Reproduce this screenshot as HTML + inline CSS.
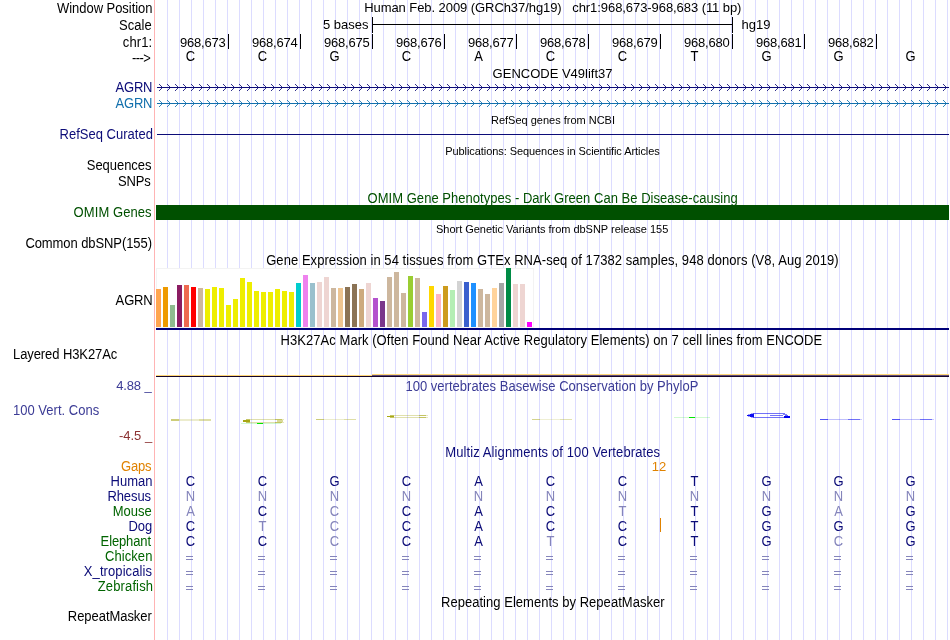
<!DOCTYPE html>
<html><head><meta charset="utf-8"><title>UCSC Genome Browser</title>
<style>
html,body{margin:0;padding:0;background:#fff;}
body{width:950px;height:640px;position:relative;overflow:hidden;font-family:"Liberation Sans",sans-serif;}
#w{position:absolute;left:0;top:0;width:950px;height:640px;will-change:transform;}
.t{position:absolute;white-space:nowrap;line-height:16px;height:16px;font-size:13px;color:#000;transform-origin:0 12px;}
.L{transform:scaleY(1.07);}
.S{font-size:11px;}
.b{position:absolute;}
.eq{width:7px;height:4px;box-sizing:border-box;border-top:1px solid #8585bb;border-bottom:1px solid #8585bb;}
.guides{position:absolute;left:167px;top:0;width:783px;height:640px;
 background-image:linear-gradient(to right,rgb(220,220,255) 1px,transparent 1px);
 background-size:12px 640px;}
</style></head><body><div id="w">
<div class="guides"></div>
<div class="b" style="left:154px;top:0px;width:1px;height:640px;background:rgb(255,180,180);"></div>
<div class="t L" style="top:1px;left:57.0px;letter-spacing:-0.043px;">Window Position</div>
<div class="t L" style="top:18px;left:119.0px;letter-spacing:0.025px;">Scale</div>
<div class="t L" style="top:35px;left:122.8px;letter-spacing:0.125px;">chr1:</div>
<div class="t L" style="top:51px;left:132.0px;letter-spacing:-0.6px;">---&gt;</div>
<div class="t M" style="top:0px;left:364.2px;letter-spacing:-0.069px;">Human Feb. 2009 (GRCh37/hg19)&nbsp;&nbsp;&nbsp;chr1:968,673-968,683 (11 bp)</div>
<div class="t M" style="top:17px;right:581.5px;">5 bases</div>
<div class="b" style="left:372px;top:24px;width:361px;height:1px;background:#000;"></div>
<div class="b" style="left:372px;top:17px;width:1px;height:16px;background:#000;"></div>
<div class="b" style="left:732px;top:17px;width:1px;height:16px;background:#000;"></div>
<div class="t M" style="top:17px;left:741.5px;">hg19</div>
<div class="b" style="left:228px;top:34px;width:1px;height:15px;background:#000;"></div>
<div class="t M" style="top:35px;right:724.4px;letter-spacing:-0.2px;">968,673</div>
<div class="b" style="left:300px;top:34px;width:1px;height:15px;background:#000;"></div>
<div class="t M" style="top:35px;right:652.4px;letter-spacing:-0.2px;">968,674</div>
<div class="b" style="left:372px;top:34px;width:1px;height:15px;background:#000;"></div>
<div class="t M" style="top:35px;right:580.4px;letter-spacing:-0.2px;">968,675</div>
<div class="b" style="left:444px;top:34px;width:1px;height:15px;background:#000;"></div>
<div class="t M" style="top:35px;right:508.4px;letter-spacing:-0.2px;">968,676</div>
<div class="b" style="left:516px;top:34px;width:1px;height:15px;background:#000;"></div>
<div class="t M" style="top:35px;right:436.4px;letter-spacing:-0.2px;">968,677</div>
<div class="b" style="left:588px;top:34px;width:1px;height:15px;background:#000;"></div>
<div class="t M" style="top:35px;right:364.4px;letter-spacing:-0.2px;">968,678</div>
<div class="b" style="left:660px;top:34px;width:1px;height:15px;background:#000;"></div>
<div class="t M" style="top:35px;right:292.4px;letter-spacing:-0.2px;">968,679</div>
<div class="b" style="left:732px;top:34px;width:1px;height:15px;background:#000;"></div>
<div class="t M" style="top:35px;right:220.39999999999998px;letter-spacing:-0.2px;">968,680</div>
<div class="b" style="left:804px;top:34px;width:1px;height:15px;background:#000;"></div>
<div class="t M" style="top:35px;right:148.39999999999998px;letter-spacing:-0.2px;">968,681</div>
<div class="b" style="left:876px;top:34px;width:1px;height:15px;background:#000;"></div>
<div class="t M" style="top:35px;right:76.39999999999998px;letter-spacing:-0.2px;">968,682</div>
<div class="t M" style="top:49px;left:140.5px;width:100px;text-align:center;transform:scaleY(1.07);">C</div>
<div class="t M" style="top:49px;left:212.5px;width:100px;text-align:center;transform:scaleY(1.07);">C</div>
<div class="t M" style="top:49px;left:284.5px;width:100px;text-align:center;transform:scaleY(1.07);">G</div>
<div class="t M" style="top:49px;left:356.5px;width:100px;text-align:center;transform:scaleY(1.07);">C</div>
<div class="t M" style="top:49px;left:428.5px;width:100px;text-align:center;transform:scaleY(1.07);">A</div>
<div class="t M" style="top:49px;left:500.5px;width:100px;text-align:center;transform:scaleY(1.07);">C</div>
<div class="t M" style="top:49px;left:572.5px;width:100px;text-align:center;transform:scaleY(1.07);">C</div>
<div class="t M" style="top:49px;left:644.5px;width:100px;text-align:center;transform:scaleY(1.07);">T</div>
<div class="t M" style="top:49px;left:716.5px;width:100px;text-align:center;transform:scaleY(1.07);">G</div>
<div class="t M" style="top:49px;left:788.5px;width:100px;text-align:center;transform:scaleY(1.07);">G</div>
<div class="t M" style="top:49px;left:860.5px;width:100px;text-align:center;transform:scaleY(1.07);">G</div>
<div class="t M" style="top:66px;left:492.6px;letter-spacing:-0.0px;">GENCODE V49lift37</div>
<div class="t L" style="top:80px;color:#0c0c78;left:115.6px;letter-spacing:-0.233px;">AGRN</div>
<div class="b" style="left:157px;top:87px;width:792px;height:1px;background:#0c0c78;"></div>
<svg class="b" style="left:0;top:82px" width="950" height="11" viewBox="0 82 950 11"><path fill="none" stroke="#0c0c78" stroke-width="0.85" d="M159 84L162.5 87.5L159 91M167 84L170.5 87.5L167 91M175 84L178.5 87.5L175 91M183 84L186.5 87.5L183 91M191 84L194.5 87.5L191 91M199 84L202.5 87.5L199 91M207 84L210.5 87.5L207 91M215 84L218.5 87.5L215 91M223 84L226.5 87.5L223 91M231 84L234.5 87.5L231 91M239 84L242.5 87.5L239 91M247 84L250.5 87.5L247 91M255 84L258.5 87.5L255 91M263 84L266.5 87.5L263 91M271 84L274.5 87.5L271 91M279 84L282.5 87.5L279 91M287 84L290.5 87.5L287 91M295 84L298.5 87.5L295 91M303 84L306.5 87.5L303 91M311 84L314.5 87.5L311 91M319 84L322.5 87.5L319 91M327 84L330.5 87.5L327 91M335 84L338.5 87.5L335 91M343 84L346.5 87.5L343 91M351 84L354.5 87.5L351 91M359 84L362.5 87.5L359 91M367 84L370.5 87.5L367 91M375 84L378.5 87.5L375 91M383 84L386.5 87.5L383 91M391 84L394.5 87.5L391 91M399 84L402.5 87.5L399 91M407 84L410.5 87.5L407 91M415 84L418.5 87.5L415 91M423 84L426.5 87.5L423 91M431 84L434.5 87.5L431 91M439 84L442.5 87.5L439 91M447 84L450.5 87.5L447 91M455 84L458.5 87.5L455 91M463 84L466.5 87.5L463 91M471 84L474.5 87.5L471 91M479 84L482.5 87.5L479 91M487 84L490.5 87.5L487 91M495 84L498.5 87.5L495 91M503 84L506.5 87.5L503 91M511 84L514.5 87.5L511 91M519 84L522.5 87.5L519 91M527 84L530.5 87.5L527 91M535 84L538.5 87.5L535 91M543 84L546.5 87.5L543 91M551 84L554.5 87.5L551 91M559 84L562.5 87.5L559 91M567 84L570.5 87.5L567 91M575 84L578.5 87.5L575 91M583 84L586.5 87.5L583 91M591 84L594.5 87.5L591 91M599 84L602.5 87.5L599 91M607 84L610.5 87.5L607 91M615 84L618.5 87.5L615 91M623 84L626.5 87.5L623 91M631 84L634.5 87.5L631 91M639 84L642.5 87.5L639 91M647 84L650.5 87.5L647 91M655 84L658.5 87.5L655 91M663 84L666.5 87.5L663 91M671 84L674.5 87.5L671 91M679 84L682.5 87.5L679 91M687 84L690.5 87.5L687 91M695 84L698.5 87.5L695 91M703 84L706.5 87.5L703 91M711 84L714.5 87.5L711 91M719 84L722.5 87.5L719 91M727 84L730.5 87.5L727 91M735 84L738.5 87.5L735 91M743 84L746.5 87.5L743 91M751 84L754.5 87.5L751 91M759 84L762.5 87.5L759 91M767 84L770.5 87.5L767 91M775 84L778.5 87.5L775 91M783 84L786.5 87.5L783 91M791 84L794.5 87.5L791 91M799 84L802.5 87.5L799 91M807 84L810.5 87.5L807 91M815 84L818.5 87.5L815 91M823 84L826.5 87.5L823 91M831 84L834.5 87.5L831 91M839 84L842.5 87.5L839 91M847 84L850.5 87.5L847 91M855 84L858.5 87.5L855 91M863 84L866.5 87.5L863 91M871 84L874.5 87.5L871 91M879 84L882.5 87.5L879 91M887 84L890.5 87.5L887 91M895 84L898.5 87.5L895 91M903 84L906.5 87.5L903 91M911 84L914.5 87.5L911 91M919 84L922.5 87.5L919 91M927 84L930.5 87.5L927 91M935 84L938.5 87.5L935 91M943 84L946.5 87.5L943 91"/></svg>
<div class="t L" style="top:96px;color:#1270ad;left:115.6px;letter-spacing:-0.233px;">AGRN</div>
<div class="b" style="left:157px;top:103px;width:792px;height:1px;background:#1270ad;"></div>
<svg class="b" style="left:0;top:98px" width="950" height="11" viewBox="0 98 950 11"><path fill="none" stroke="#1270ad" stroke-width="0.85" d="M159 100L162.5 103.5L159 107M167 100L170.5 103.5L167 107M175 100L178.5 103.5L175 107M183 100L186.5 103.5L183 107M191 100L194.5 103.5L191 107M199 100L202.5 103.5L199 107M207 100L210.5 103.5L207 107M215 100L218.5 103.5L215 107M223 100L226.5 103.5L223 107M231 100L234.5 103.5L231 107M239 100L242.5 103.5L239 107M247 100L250.5 103.5L247 107M255 100L258.5 103.5L255 107M263 100L266.5 103.5L263 107M271 100L274.5 103.5L271 107M279 100L282.5 103.5L279 107M287 100L290.5 103.5L287 107M295 100L298.5 103.5L295 107M303 100L306.5 103.5L303 107M311 100L314.5 103.5L311 107M319 100L322.5 103.5L319 107M327 100L330.5 103.5L327 107M335 100L338.5 103.5L335 107M343 100L346.5 103.5L343 107M351 100L354.5 103.5L351 107M359 100L362.5 103.5L359 107M367 100L370.5 103.5L367 107M375 100L378.5 103.5L375 107M383 100L386.5 103.5L383 107M391 100L394.5 103.5L391 107M399 100L402.5 103.5L399 107M407 100L410.5 103.5L407 107M415 100L418.5 103.5L415 107M423 100L426.5 103.5L423 107M431 100L434.5 103.5L431 107M439 100L442.5 103.5L439 107M447 100L450.5 103.5L447 107M455 100L458.5 103.5L455 107M463 100L466.5 103.5L463 107M471 100L474.5 103.5L471 107M479 100L482.5 103.5L479 107M487 100L490.5 103.5L487 107M495 100L498.5 103.5L495 107M503 100L506.5 103.5L503 107M511 100L514.5 103.5L511 107M519 100L522.5 103.5L519 107M527 100L530.5 103.5L527 107M535 100L538.5 103.5L535 107M543 100L546.5 103.5L543 107M551 100L554.5 103.5L551 107M559 100L562.5 103.5L559 107M567 100L570.5 103.5L567 107M575 100L578.5 103.5L575 107M583 100L586.5 103.5L583 107M591 100L594.5 103.5L591 107M599 100L602.5 103.5L599 107M607 100L610.5 103.5L607 107M615 100L618.5 103.5L615 107M623 100L626.5 103.5L623 107M631 100L634.5 103.5L631 107M639 100L642.5 103.5L639 107M647 100L650.5 103.5L647 107M655 100L658.5 103.5L655 107M663 100L666.5 103.5L663 107M671 100L674.5 103.5L671 107M679 100L682.5 103.5L679 107M687 100L690.5 103.5L687 107M695 100L698.5 103.5L695 107M703 100L706.5 103.5L703 107M711 100L714.5 103.5L711 107M719 100L722.5 103.5L719 107M727 100L730.5 103.5L727 107M735 100L738.5 103.5L735 107M743 100L746.5 103.5L743 107M751 100L754.5 103.5L751 107M759 100L762.5 103.5L759 107M767 100L770.5 103.5L767 107M775 100L778.5 103.5L775 107M783 100L786.5 103.5L783 107M791 100L794.5 103.5L791 107M799 100L802.5 103.5L799 107M807 100L810.5 103.5L807 107M815 100L818.5 103.5L815 107M823 100L826.5 103.5L823 107M831 100L834.5 103.5L831 107M839 100L842.5 103.5L839 107M847 100L850.5 103.5L847 107M855 100L858.5 103.5L855 107M863 100L866.5 103.5L863 107M871 100L874.5 103.5L871 107M879 100L882.5 103.5L879 107M887 100L890.5 103.5L887 107M895 100L898.5 103.5L895 107M903 100L906.5 103.5L903 107M911 100L914.5 103.5L911 107M919 100L922.5 103.5L919 107M927 100L930.5 103.5L927 107M935 100L938.5 103.5L935 107M943 100L946.5 103.5L943 107"/></svg>
<div class="t S" style="top:112px;left:491.0px;letter-spacing:-0.005px;">RefSeq genes from NCBI</div>
<div class="t L" style="top:127px;color:#0c0c78;left:59.6px;letter-spacing:0.008px;">RefSeq Curated</div>
<div class="b" style="left:157px;top:134px;width:792px;height:1px;background:#0c0c78;"></div>
<div class="t S" style="top:143px;left:445.2px;letter-spacing:-0.069px;">Publications: Sequences in Scientific Articles</div>
<div class="t L" style="top:158px;left:86.8px;letter-spacing:-0.05px;">Sequences</div>
<div class="t L" style="top:174px;left:118.0px;letter-spacing:-0.167px;">SNPs</div>
<div class="t L" style="top:191px;color:#005000;left:367.6px;letter-spacing:0.029px;">OMIM Gene Phenotypes - Dark Green Can Be Disease-causing</div>
<div class="t L" style="top:205px;color:#005000;left:73.6px;letter-spacing:0.078px;">OMIM Genes</div>
<div class="b" style="left:156px;top:205px;width:793px;height:15px;background:#005000;"></div>
<div class="t S" style="top:221px;left:436.0px;letter-spacing:-0.02px;">Short Genetic Variants from dbSNP release 155</div>
<div class="t L" style="top:236px;left:25.4px;letter-spacing:-0.081px;">Common dbSNP(155)</div>
<div class="t L" style="top:253px;left:266.2px;letter-spacing:0.058px;">Gene Expression in 54 tissues from GTEx RNA-seq of 17382 samples, 948 donors (V8, Aug 2019)</div>
<div class="t L" style="top:293px;left:115.6px;letter-spacing:-0.133px;">AGRN</div>
<div class="b" style="left:156px;top:268px;width:378px;height:60px;background:#fff;box-shadow:inset 0 0 0 1px #f3f3f3;"></div>
<div class="b" style="left:156px;top:289px;width:5px;height:38px;background:#FFA54F;"></div>
<div class="b" style="left:163px;top:287px;width:5px;height:40px;background:#EE9A00;"></div>
<div class="b" style="left:170px;top:305px;width:5px;height:22px;background:#8FBC8F;"></div>
<div class="b" style="left:177px;top:285px;width:5px;height:42px;background:#8B1C62;"></div>
<div class="b" style="left:184px;top:285px;width:5px;height:42px;background:#EE6A50;"></div>
<div class="b" style="left:191px;top:287px;width:5px;height:40px;background:#FF0000;"></div>
<div class="b" style="left:198px;top:288px;width:5px;height:39px;background:#CDB79E;"></div>
<div class="b" style="left:205px;top:289px;width:5px;height:38px;background:#EEEE00;"></div>
<div class="b" style="left:212px;top:287px;width:5px;height:40px;background:#EEEE00;"></div>
<div class="b" style="left:219px;top:288px;width:5px;height:39px;background:#EEEE00;"></div>
<div class="b" style="left:226px;top:305px;width:5px;height:22px;background:#EEEE00;"></div>
<div class="b" style="left:233px;top:299px;width:5px;height:28px;background:#EEEE00;"></div>
<div class="b" style="left:240px;top:278px;width:5px;height:49px;background:#EEEE00;"></div>
<div class="b" style="left:247px;top:282px;width:5px;height:45px;background:#EEEE00;"></div>
<div class="b" style="left:254px;top:291px;width:5px;height:36px;background:#EEEE00;"></div>
<div class="b" style="left:261px;top:292px;width:5px;height:35px;background:#EEEE00;"></div>
<div class="b" style="left:268px;top:292px;width:5px;height:35px;background:#EEEE00;"></div>
<div class="b" style="left:275px;top:289px;width:5px;height:38px;background:#EEEE00;"></div>
<div class="b" style="left:282px;top:291px;width:5px;height:36px;background:#EEEE00;"></div>
<div class="b" style="left:289px;top:292px;width:5px;height:35px;background:#EEEE00;"></div>
<div class="b" style="left:296px;top:283px;width:5px;height:44px;background:#00CDCD;"></div>
<div class="b" style="left:303px;top:275px;width:5px;height:52px;background:#EE82EE;"></div>
<div class="b" style="left:310px;top:283px;width:5px;height:44px;background:#9AC0CD;"></div>
<div class="b" style="left:317px;top:282px;width:5px;height:45px;background:#EED5D2;"></div>
<div class="b" style="left:324px;top:277px;width:5px;height:50px;background:#EED5D2;"></div>
<div class="b" style="left:331px;top:288px;width:5px;height:39px;background:#CDB79E;"></div>
<div class="b" style="left:338px;top:288px;width:5px;height:39px;background:#EEC591;"></div>
<div class="b" style="left:345px;top:287px;width:5px;height:40px;background:#8B7355;"></div>
<div class="b" style="left:352px;top:284px;width:5px;height:43px;background:#8B7355;"></div>
<div class="b" style="left:359px;top:289px;width:5px;height:38px;background:#CDAA7D;"></div>
<div class="b" style="left:366px;top:283px;width:5px;height:44px;background:#EED5D2;"></div>
<div class="b" style="left:373px;top:298px;width:5px;height:29px;background:#B452CD;"></div>
<div class="b" style="left:380px;top:301px;width:5px;height:26px;background:#7A378B;"></div>
<div class="b" style="left:387px;top:277px;width:5px;height:50px;background:#CDB79E;"></div>
<div class="b" style="left:394px;top:272px;width:5px;height:55px;background:#CDB79E;"></div>
<div class="b" style="left:401px;top:293px;width:5px;height:34px;background:#CDB79E;"></div>
<div class="b" style="left:408px;top:276px;width:5px;height:51px;background:#9ACD32;"></div>
<div class="b" style="left:415px;top:278px;width:5px;height:49px;background:#CDB79E;"></div>
<div class="b" style="left:422px;top:312px;width:5px;height:15px;background:#7A67EE;"></div>
<div class="b" style="left:429px;top:286px;width:5px;height:41px;background:#FFD700;"></div>
<div class="b" style="left:436px;top:294px;width:5px;height:33px;background:#FFB6C1;"></div>
<div class="b" style="left:443px;top:286px;width:5px;height:41px;background:#CD9B1D;"></div>
<div class="b" style="left:450px;top:290px;width:5px;height:37px;background:#B4EEB4;"></div>
<div class="b" style="left:457px;top:281px;width:5px;height:46px;background:#D3D3D3;"></div>
<div class="b" style="left:464px;top:282px;width:5px;height:45px;background:#3A5FCD;"></div>
<div class="b" style="left:471px;top:283px;width:5px;height:44px;background:#1E90FF;"></div>
<div class="b" style="left:478px;top:289px;width:5px;height:38px;background:#CDB79E;"></div>
<div class="b" style="left:485px;top:294px;width:5px;height:33px;background:#CDB79E;"></div>
<div class="b" style="left:492px;top:288px;width:5px;height:39px;background:#FFD39B;"></div>
<div class="b" style="left:499px;top:283px;width:5px;height:44px;background:#A6A6A6;"></div>
<div class="b" style="left:506px;top:268px;width:5px;height:59px;background:#008B45;"></div>
<div class="b" style="left:513px;top:284px;width:5px;height:43px;background:#EED5D2;"></div>
<div class="b" style="left:520px;top:284px;width:5px;height:43px;background:#EED5D2;"></div>
<div class="b" style="left:527px;top:322px;width:5px;height:5px;background:#FF00FF;"></div>
<div class="b" style="left:156px;top:328px;width:793px;height:2px;background:#000078;"></div>
<div class="t L" style="top:333px;left:280.6px;letter-spacing:0.047px;">H3K27Ac Mark (Often Found Near Active Regulatory Elements) on 7 cell lines from ENCODE</div>
<div class="t L" style="top:347px;left:13.0px;letter-spacing:-0.086px;">Layered H3K27Ac</div>
<div class="b" style="left:156px;top:375px;width:216px;height:1px;background:#ffd778;"></div>
<div class="b" style="left:156px;top:376px;width:793px;height:1px;background:#14052a;"></div>
<div class="b" style="left:372px;top:374px;width:577px;height:1px;background:#ffd778;"></div>
<div class="b" style="left:372px;top:375px;width:577px;height:1px;background:#5f4a78;"></div>
<div class="t M" style="top:378px;color:#3c3c96;left:116.2px;letter-spacing:-0.14px;">4.88 _</div>
<div class="t L" style="top:403px;color:#3c3c96;left:13.0px;letter-spacing:0.015px;">100 Vert. Cons</div>
<div class="t M" style="top:428px;color:#8c3232;left:119.0px;letter-spacing:-0.02px;">-4.5 _</div>
<div class="t L" style="top:379px;color:#3c3c96;left:405.4px;letter-spacing:0.022px;">100 vertebrates Basewise Conservation by PhyloP</div>
<div class="b" style="left:171px;top:419px;width:8px;height:1px;background:rgba(160,160,0,0.5249999999999999);"></div>
<div class="b" style="left:179px;top:419px;width:20px;height:1px;background:rgba(160,160,0,0.196);"></div>
<div class="b" style="left:199px;top:419px;width:12px;height:1px;background:rgba(160,160,0,0.35);"></div>
<div class="b" style="left:171px;top:420px;width:8px;height:1px;background:rgba(160,160,0,0.5249999999999999);"></div>
<div class="b" style="left:179px;top:420px;width:20px;height:1px;background:rgba(160,160,0,0.196);"></div>
<div class="b" style="left:199px;top:420px;width:12px;height:1px;background:rgba(160,160,0,0.35);"></div>
<div class="b" style="left:246px;top:419px;width:4px;height:1px;background:rgba(160,160,0,0.6);"></div>
<div class="b" style="left:250px;top:419px;width:25px;height:1px;background:rgba(160,160,0,0.32);"></div>
<div class="b" style="left:275px;top:419px;width:7px;height:1px;background:rgba(160,160,0,0.62);"></div>
<div class="b" style="left:282px;top:419px;width:2px;height:1px;background:rgba(160,160,0,0.25);"></div>
<div class="b" style="left:246px;top:422px;width:4px;height:1px;background:rgba(160,160,0,0.6);"></div>
<div class="b" style="left:250px;top:422px;width:25px;height:1px;background:rgba(160,160,0,0.32);"></div>
<div class="b" style="left:275px;top:422px;width:7px;height:1px;background:rgba(160,160,0,0.62);"></div>
<div class="b" style="left:282px;top:422px;width:2px;height:1px;background:rgba(160,160,0,0.25);"></div>
<div class="b" style="left:243px;top:420px;width:7px;height:2px;background:rgba(160,160,0,0.92);"></div>
<div class="b" style="left:277px;top:420px;width:6px;height:2px;background:rgba(160,160,0,0.4);"></div>
<div class="b" style="left:241px;top:423px;width:40px;height:1px;background:rgba(0,230,0,0.18);"></div>
<div class="b" style="left:257px;top:423px;width:6px;height:1px;background:rgba(0,230,0,1);"></div>
<div class="b" style="left:316px;top:419px;width:8px;height:1px;background:rgba(160,160,0,0.5249999999999999);"></div>
<div class="b" style="left:324px;top:419px;width:20px;height:1px;background:rgba(160,160,0,0.196);"></div>
<div class="b" style="left:344px;top:419px;width:12px;height:1px;background:rgba(160,160,0,0.35);"></div>
<div class="b" style="left:390px;top:415px;width:4px;height:1px;background:rgba(160,160,0,0.6);"></div>
<div class="b" style="left:394px;top:415px;width:25px;height:1px;background:rgba(160,160,0,0.32);"></div>
<div class="b" style="left:419px;top:415px;width:7px;height:1px;background:rgba(160,160,0,0.62);"></div>
<div class="b" style="left:426px;top:415px;width:2px;height:1px;background:rgba(160,160,0,0.25);"></div>
<div class="b" style="left:390px;top:417px;width:4px;height:1px;background:rgba(160,160,0,0.6);"></div>
<div class="b" style="left:394px;top:417px;width:25px;height:1px;background:rgba(160,160,0,0.32);"></div>
<div class="b" style="left:419px;top:417px;width:7px;height:1px;background:rgba(160,160,0,0.62);"></div>
<div class="b" style="left:426px;top:417px;width:2px;height:1px;background:rgba(160,160,0,0.25);"></div>
<div class="b" style="left:387px;top:416px;width:7px;height:1px;background:rgba(160,160,0,0.92);"></div>
<div class="b" style="left:532px;top:419px;width:8px;height:1px;background:rgba(160,160,0,0.44999999999999996);"></div>
<div class="b" style="left:540px;top:419px;width:20px;height:1px;background:rgba(160,160,0,0.168);"></div>
<div class="b" style="left:560px;top:419px;width:12px;height:1px;background:rgba(160,160,0,0.3);"></div>
<div class="b" style="left:674px;top:417px;width:36px;height:1px;background:rgba(0,230,0,0.18);"></div>
<div class="b" style="left:689px;top:417px;width:6px;height:1px;background:rgba(0,230,0,1);"></div>
<div class="b" style="left:753px;top:413px;width:32px;height:1px;background:rgba(0,0,240,0.55);"></div>
<div class="b" style="left:753px;top:417px;width:32px;height:1px;background:rgba(0,0,240,0.55);"></div>
<div class="b" style="left:747px;top:415px;width:7px;height:1px;background:rgba(0,0,240,0.95);"></div>
<div class="b" style="left:750px;top:414px;width:4px;height:1px;background:rgba(0,0,240,0.95);"></div>
<div class="b" style="left:750px;top:416px;width:4px;height:1px;background:rgba(0,0,240,0.95);"></div>
<div class="b" style="left:748px;top:414px;width:2px;height:1px;background:rgba(0,0,240,0.4);"></div>
<div class="b" style="left:748px;top:416px;width:2px;height:1px;background:rgba(0,0,240,0.4);"></div>
<div class="b" style="left:751px;top:413px;width:3px;height:1px;background:rgba(0,0,240,0.35);"></div>
<div class="b" style="left:751px;top:417px;width:3px;height:1px;background:rgba(0,0,240,0.35);"></div>
<div class="b" style="left:770px;top:415px;width:13px;height:1px;background:rgba(0,0,240,0.55);"></div>
<div class="b" style="left:783px;top:414px;width:4px;height:1px;background:rgba(0,0,240,0.5);"></div>
<div class="b" style="left:785px;top:415px;width:3px;height:1px;background:rgba(0,0,240,0.6);"></div>
<div class="b" style="left:784px;top:416px;width:6px;height:2px;background:rgba(0,0,240,1);"></div>
<div class="b" style="left:820px;top:419px;width:8px;height:1px;background:rgba(0,0,240,0.675);"></div>
<div class="b" style="left:828px;top:419px;width:20px;height:1px;background:rgba(0,0,240,0.25200000000000006);"></div>
<div class="b" style="left:848px;top:419px;width:12px;height:1px;background:rgba(0,0,240,0.45);"></div>
<div class="b" style="left:848px;top:419px;width:14px;height:1px;background:rgba(0,0,240,0.2);"></div>
<div class="b" style="left:892px;top:419px;width:8px;height:1px;background:rgba(0,0,240,0.675);"></div>
<div class="b" style="left:900px;top:419px;width:20px;height:1px;background:rgba(0,0,240,0.25200000000000006);"></div>
<div class="b" style="left:920px;top:419px;width:12px;height:1px;background:rgba(0,0,240,0.45);"></div>
<div class="b" style="left:920px;top:419px;width:14px;height:1px;background:rgba(0,0,240,0.2);"></div>
<div class="t L" style="top:445px;color:#0c0c78;left:445.2px;letter-spacing:0.111px;">Multiz Alignments of 100 Vertebrates</div>
<div class="t L" style="top:459px;color:#e08200;left:121.0px;letter-spacing:-0.167px;">Gaps</div>
<div class="t L" style="top:474px;color:#0c0c78;left:110.6px;letter-spacing:0.0px;">Human</div>
<div class="t L" style="top:474px;color:#0c0c78;left:140.5px;width:100px;text-align:center;">C</div>
<div class="t L" style="top:474px;color:#0c0c78;left:212.5px;width:100px;text-align:center;">C</div>
<div class="t L" style="top:474px;color:#0c0c78;left:284.5px;width:100px;text-align:center;">G</div>
<div class="t L" style="top:474px;color:#0c0c78;left:356.5px;width:100px;text-align:center;">C</div>
<div class="t L" style="top:474px;color:#0c0c78;left:428.5px;width:100px;text-align:center;">A</div>
<div class="t L" style="top:474px;color:#0c0c78;left:500.5px;width:100px;text-align:center;">C</div>
<div class="t L" style="top:474px;color:#0c0c78;left:572.5px;width:100px;text-align:center;">C</div>
<div class="t L" style="top:474px;color:#0c0c78;left:644.5px;width:100px;text-align:center;">T</div>
<div class="t L" style="top:474px;color:#0c0c78;left:716.5px;width:100px;text-align:center;">G</div>
<div class="t L" style="top:474px;color:#0c0c78;left:788.5px;width:100px;text-align:center;">G</div>
<div class="t L" style="top:474px;color:#0c0c78;left:860.5px;width:100px;text-align:center;">G</div>
<div class="t L" style="top:489px;color:#0c0c78;left:107.4px;letter-spacing:-0.08px;">Rhesus</div>
<div class="t L" style="top:489px;color:#8585bb;left:140.5px;width:100px;text-align:center;">N</div>
<div class="t L" style="top:489px;color:#8585bb;left:212.5px;width:100px;text-align:center;">N</div>
<div class="t L" style="top:489px;color:#8585bb;left:284.5px;width:100px;text-align:center;">N</div>
<div class="t L" style="top:489px;color:#8585bb;left:356.5px;width:100px;text-align:center;">N</div>
<div class="t L" style="top:489px;color:#8585bb;left:428.5px;width:100px;text-align:center;">N</div>
<div class="t L" style="top:489px;color:#8585bb;left:500.5px;width:100px;text-align:center;">N</div>
<div class="t L" style="top:489px;color:#8585bb;left:572.5px;width:100px;text-align:center;">N</div>
<div class="t L" style="top:489px;color:#8585bb;left:644.5px;width:100px;text-align:center;">N</div>
<div class="t L" style="top:489px;color:#8585bb;left:716.5px;width:100px;text-align:center;">N</div>
<div class="t L" style="top:489px;color:#8585bb;left:788.5px;width:100px;text-align:center;">N</div>
<div class="t L" style="top:489px;color:#8585bb;left:860.5px;width:100px;text-align:center;">N</div>
<div class="t L" style="top:504px;color:#006400;left:112.8px;letter-spacing:-0.025px;">Mouse</div>
<div class="t L" style="top:504px;color:#8585bb;left:140.5px;width:100px;text-align:center;">A</div>
<div class="t L" style="top:504px;color:#0c0c78;left:212.5px;width:100px;text-align:center;">C</div>
<div class="t L" style="top:504px;color:#8585bb;left:284.5px;width:100px;text-align:center;">C</div>
<div class="t L" style="top:504px;color:#0c0c78;left:356.5px;width:100px;text-align:center;">C</div>
<div class="t L" style="top:504px;color:#0c0c78;left:428.5px;width:100px;text-align:center;">A</div>
<div class="t L" style="top:504px;color:#0c0c78;left:500.5px;width:100px;text-align:center;">C</div>
<div class="t L" style="top:504px;color:#8585bb;left:572.5px;width:100px;text-align:center;">T</div>
<div class="t L" style="top:504px;color:#0c0c78;left:644.5px;width:100px;text-align:center;">T</div>
<div class="t L" style="top:504px;color:#0c0c78;left:716.5px;width:100px;text-align:center;">G</div>
<div class="t L" style="top:504px;color:#8585bb;left:788.5px;width:100px;text-align:center;">A</div>
<div class="t L" style="top:504px;color:#0c0c78;left:860.5px;width:100px;text-align:center;">G</div>
<div class="t L" style="top:519px;color:#0c0c78;left:128.4px;letter-spacing:0.05px;">Dog</div>
<div class="t L" style="top:519px;color:#0c0c78;left:140.5px;width:100px;text-align:center;">C</div>
<div class="t L" style="top:519px;color:#8585bb;left:212.5px;width:100px;text-align:center;">T</div>
<div class="t L" style="top:519px;color:#8585bb;left:284.5px;width:100px;text-align:center;">C</div>
<div class="t L" style="top:519px;color:#0c0c78;left:356.5px;width:100px;text-align:center;">C</div>
<div class="t L" style="top:519px;color:#0c0c78;left:428.5px;width:100px;text-align:center;">A</div>
<div class="t L" style="top:519px;color:#0c0c78;left:500.5px;width:100px;text-align:center;">C</div>
<div class="t L" style="top:519px;color:#0c0c78;left:572.5px;width:100px;text-align:center;">C</div>
<div class="t L" style="top:519px;color:#0c0c78;left:644.5px;width:100px;text-align:center;">T</div>
<div class="t L" style="top:519px;color:#0c0c78;left:716.5px;width:100px;text-align:center;">G</div>
<div class="t L" style="top:519px;color:#0c0c78;left:788.5px;width:100px;text-align:center;">G</div>
<div class="t L" style="top:519px;color:#0c0c78;left:860.5px;width:100px;text-align:center;">G</div>
<div class="t L" style="top:534px;color:#006400;left:100.6px;letter-spacing:-0.129px;">Elephant</div>
<div class="t L" style="top:534px;color:#0c0c78;left:140.5px;width:100px;text-align:center;">C</div>
<div class="t L" style="top:534px;color:#0c0c78;left:212.5px;width:100px;text-align:center;">C</div>
<div class="t L" style="top:534px;color:#8585bb;left:284.5px;width:100px;text-align:center;">C</div>
<div class="t L" style="top:534px;color:#0c0c78;left:356.5px;width:100px;text-align:center;">C</div>
<div class="t L" style="top:534px;color:#0c0c78;left:428.5px;width:100px;text-align:center;">A</div>
<div class="t L" style="top:534px;color:#8585bb;left:500.5px;width:100px;text-align:center;">T</div>
<div class="t L" style="top:534px;color:#0c0c78;left:572.5px;width:100px;text-align:center;">C</div>
<div class="t L" style="top:534px;color:#0c0c78;left:644.5px;width:100px;text-align:center;">T</div>
<div class="t L" style="top:534px;color:#0c0c78;left:716.5px;width:100px;text-align:center;">G</div>
<div class="t L" style="top:534px;color:#8585bb;left:788.5px;width:100px;text-align:center;">C</div>
<div class="t L" style="top:534px;color:#0c0c78;left:860.5px;width:100px;text-align:center;">G</div>
<div class="t L" style="top:549px;color:#006400;left:105.0px;letter-spacing:0.067px;">Chicken</div>
<div class="b eq" style="left:186px;top:556px;"></div>
<div class="b eq" style="left:258px;top:556px;"></div>
<div class="b eq" style="left:330px;top:556px;"></div>
<div class="b eq" style="left:402px;top:556px;"></div>
<div class="b eq" style="left:474px;top:556px;"></div>
<div class="b eq" style="left:546px;top:556px;"></div>
<div class="b eq" style="left:618px;top:556px;"></div>
<div class="b eq" style="left:690px;top:556px;"></div>
<div class="b eq" style="left:762px;top:556px;"></div>
<div class="b eq" style="left:834px;top:556px;"></div>
<div class="b eq" style="left:906px;top:556px;"></div>
<div class="t L" style="top:564px;color:#0c0c78;left:83.8px;letter-spacing:0.091px;">X_tropicalis</div>
<div class="b eq" style="left:186px;top:571px;"></div>
<div class="b eq" style="left:258px;top:571px;"></div>
<div class="b eq" style="left:330px;top:571px;"></div>
<div class="b eq" style="left:402px;top:571px;"></div>
<div class="b eq" style="left:474px;top:571px;"></div>
<div class="b eq" style="left:546px;top:571px;"></div>
<div class="b eq" style="left:618px;top:571px;"></div>
<div class="b eq" style="left:690px;top:571px;"></div>
<div class="b eq" style="left:762px;top:571px;"></div>
<div class="b eq" style="left:834px;top:571px;"></div>
<div class="b eq" style="left:906px;top:571px;"></div>
<div class="t L" style="top:579px;color:#006400;left:97.8px;letter-spacing:0.125px;">Zebrafish</div>
<div class="b eq" style="left:186px;top:586px;"></div>
<div class="b eq" style="left:258px;top:586px;"></div>
<div class="b eq" style="left:330px;top:586px;"></div>
<div class="b eq" style="left:402px;top:586px;"></div>
<div class="b eq" style="left:474px;top:586px;"></div>
<div class="b eq" style="left:546px;top:586px;"></div>
<div class="b eq" style="left:618px;top:586px;"></div>
<div class="b eq" style="left:690px;top:586px;"></div>
<div class="b eq" style="left:762px;top:586px;"></div>
<div class="b eq" style="left:834px;top:586px;"></div>
<div class="b eq" style="left:906px;top:586px;"></div>
<div class="t M" style="top:459px;color:#e08200;left:609px;width:100px;text-align:center;">12</div>
<div class="b" style="left:660px;top:518px;width:1px;height:14px;background:#e08200;"></div>
<div class="t L" style="top:595px;left:441.0px;letter-spacing:0.03px;">Repeating Elements by RepeatMasker</div>
<div class="t L" style="top:609px;left:67.8px;letter-spacing:-0.045px;">RepeatMasker</div>
</div></body></html>
